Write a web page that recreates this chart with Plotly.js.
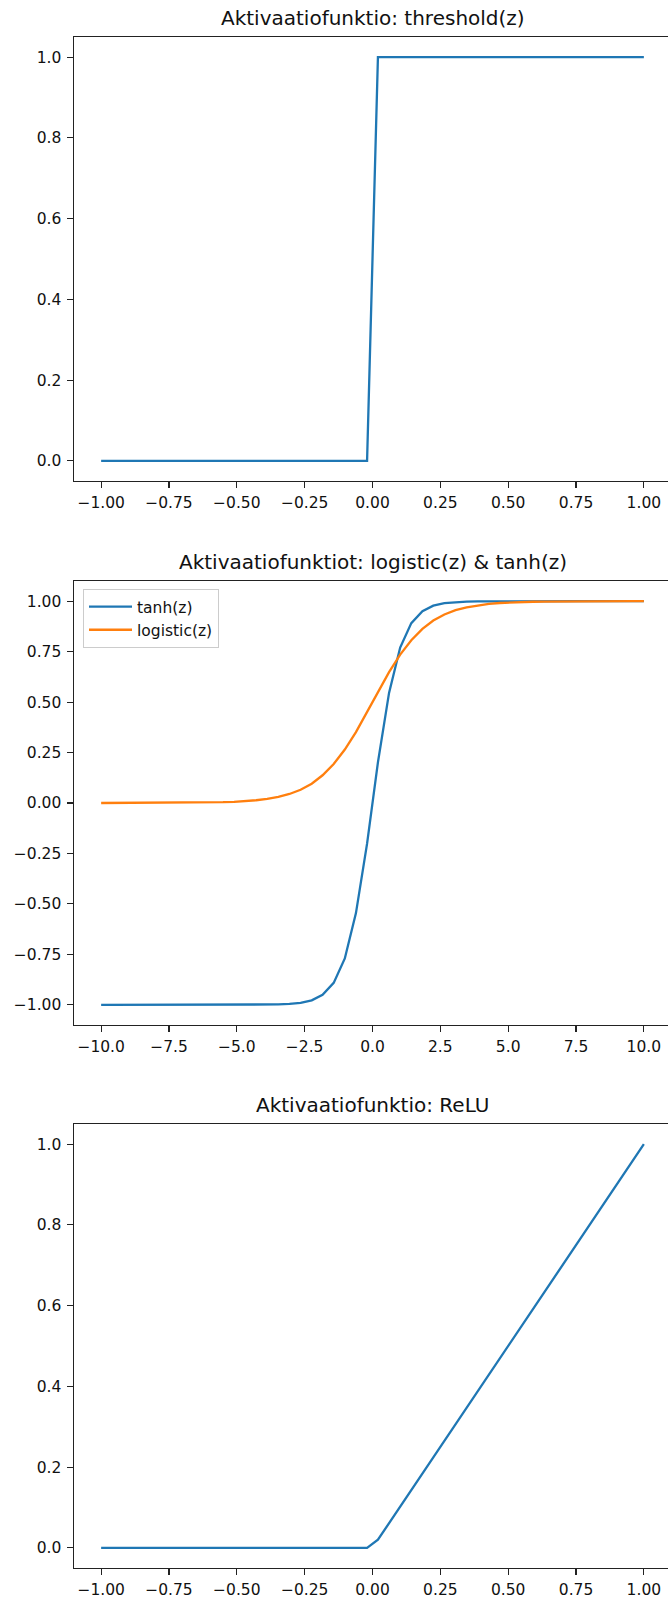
<!DOCTYPE html>
<html>
<head>
<meta charset="utf-8">
<script src="https://cdn.plot.ly/plotly-3.0.1.min.js"></script>
<style>
html, body { margin: 0; padding: 0; background: #fff; overflow: hidden; }
#chart { width: 690px; height: 1600px; }
</style>
</head>
<body>
<div id="chart"></div>
<script>
// ---- Data ----
const titles = [
  "Aktivaatiofunktio: threshold(z)",
  "Aktivaatiofunktiot: logistic(z) & tanh(z)",
  "Aktivaatiofunktio: ReLU"
];

// Panel 1: threshold(z)
const thrX = [-1.0, -0.02, 0.02, 1.0];
const thrY = [0, 0, 1, 1];

// Panel 2: tanh(z) and logistic(z)
const zX = [-10.00, -9.59, -9.18, -8.78, -8.37, -7.96, -7.55, -7.14, -6.73, -6.33,
            -5.92, -5.51, -5.10, -4.69, -4.29, -3.88, -3.47, -3.06, -2.65, -2.24,
            -1.84, -1.43, -1.02, -0.61, -0.20, 0.20, 0.61, 1.02, 1.43, 1.84,
            2.24, 2.65, 3.06, 3.47, 3.88, 4.29, 4.69, 5.10, 5.51, 5.92,
            6.33, 6.73, 7.14, 7.55, 7.96, 8.37, 8.78, 9.18, 9.59, 10.00];
const tanhY = [-1.000, -1.000, -1.000, -1.000, -1.000, -1.000, -1.000, -1.000, -1.000, -1.000,
               -1.000, -1.000, -1.000, -1.000, -0.9996, -0.9991, -0.9981, -0.9956, -0.9901, -0.9778,
               -0.9505, -0.8914, -0.7700, -0.5457, -0.2013, 0.2013, 0.5457, 0.7700, 0.8914, 0.9505,
               0.9778, 0.9901, 0.9956, 0.9981, 0.9991, 0.9996, 1.000, 1.000, 1.000, 1.000,
               1.000, 1.000, 1.000, 1.000, 1.000, 1.000, 1.000, 1.000, 1.000, 1.000];
const logisticY = [0.0000, 0.0001, 0.0001, 0.0002, 0.0002, 0.0003, 0.0005, 0.0008, 0.0012, 0.0018,
                   0.0027, 0.0040, 0.0060, 0.0091, 0.0136, 0.0203, 0.0302, 0.0448, 0.0658, 0.0958,
                   0.1374, 0.1933, 0.2649, 0.3516, 0.4492, 0.5508, 0.6484, 0.7351, 0.8067, 0.8626,
                   0.9042, 0.9342, 0.9552, 0.9698, 0.9797, 0.9864, 0.9909, 0.9940, 0.9960, 0.9973,
                   0.9982, 0.9988, 0.9992, 0.9995, 0.9997, 0.9998, 0.9998, 0.9999, 0.9999, 1.0000];

// Panel 3: ReLU
const reluX = [-1.0, -0.02, 0.02, 1.0];
const reluY = [0, 0, 0.02, 1];

// ---- Styling ----
const C0 = "#1f77b4", C1 = "#ff7f0e";
const FONT = "DejaVu Sans, sans-serif";
const TICK = 15.5, TITLE = 20, LW = 2.3;
const H = 1600;
// pixel extents (top, bottom) of each panel
const panels = [[37, 481], [581, 1025], [1124, 1568]];
const doms = panels.map(p => [1 - p[1] / H, 1 - p[0] / H]);

function xax(dom, range, dtick, fmt) {
  return {
    domain: [0, 1], anchor: dom, range: range, dtick: dtick, tick0: 0, tickformat: fmt,
    showgrid: false, zeroline: false, showline: true, mirror: true,
    linecolor: "#222", linewidth: 1.1, ticks: "outside", ticklen: 5.5, tickwidth: 1.1,
    tickcolor: "#222", ticklabelstandoff: 2,
    tickfont: { family: FONT, size: TICK, color: "#111" }
  };
}
function yax(anchor, domain, range, dtick, fmt) {
  return {
    domain: domain, anchor: anchor, range: range, dtick: dtick, tick0: 0, tickformat: fmt,
    showgrid: false, zeroline: false, showline: true, mirror: true,
    linecolor: "#222", linewidth: 1.1, ticks: "outside", ticklen: 5.5, tickwidth: 1.1,
    tickcolor: "#222", ticklabelstandoff: 3,
    tickfont: { family: FONT, size: TICK, color: "#111" }
  };
}

const traces = [
  { x: thrX, y: thrY, xaxis: "x", yaxis: "y", mode: "lines", line: { color: C0, width: LW }, showlegend: false },
  { x: zX, y: tanhY, xaxis: "x2", yaxis: "y2", mode: "lines", name: "tanh(z)", line: { color: C0, width: LW } },
  { x: zX, y: logisticY, xaxis: "x2", yaxis: "y2", mode: "lines", name: "logistic(z)", line: { color: C1, width: LW } },
  { x: reluX, y: reluY, xaxis: "x3", yaxis: "y3", mode: "lines", line: { color: C0, width: LW }, showlegend: false }
];

const ML = 74, PW = 597, W = 690;
const annotations = titles.map((t, i) => ({
  text: t, xref: "paper", yref: "paper", x: 0.5, y: doms[i][1],
  xanchor: "center", yanchor: "middle", yshift: 19, showarrow: false,
  font: { family: FONT, size: TITLE, color: "#111" }
}));

const layout = {
  width: W, height: H,
  margin: { l: ML, r: W - ML - PW, t: 0, b: 0, autoexpand: false },
  paper_bgcolor: "#fff", plot_bgcolor: "#fff",
  xaxis: xax("y", [-1.1, 1.1], 0.25, ".2f"),
  yaxis: yax("x", doms[0], [-0.05, 1.05], 0.2, ".1f"),
  xaxis2: xax("y2", [-11, 11], 2.5, ".1f"),
  yaxis2: yax("x2", doms[1], [-1.1, 1.1], 0.25, ".2f"),
  xaxis3: xax("y3", [-1.1, 1.1], 0.25, ".2f"),
  yaxis3: yax("x3", doms[2], [-0.05, 1.05], 0.2, ".1f"),
  annotations: annotations,
  showlegend: true,
  legend: {
    x: (83 - ML) / PW, y: 1 - 589 / H, xanchor: "left", yanchor: "top",
    itemwidth: 43,
    bgcolor: "rgba(255,255,255,0.8)", bordercolor: "#cccccc", borderwidth: 1,
    font: { family: FONT, size: TICK, color: "#111" }
  }
};

Plotly.newPlot("chart", traces, layout, { displayModeBar: false, staticPlot: true });
</script>
</body>
</html>
